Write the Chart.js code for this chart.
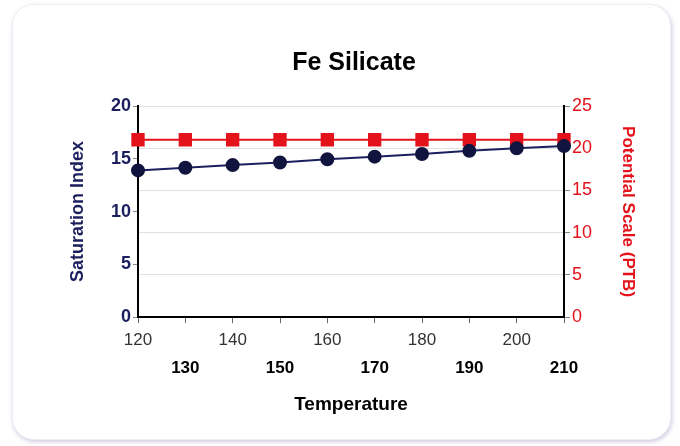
<!DOCTYPE html>
<html>
<head>
<meta charset="utf-8">
<script src="https://cdn.jsdelivr.net/npm/chart.js@4"></script>
<style>
  html, body { margin: 0; padding: 0; background: #fff; }
  #wrap { position: relative; width: 680px; height: 446px; overflow: hidden; }
  #card {
    position: absolute; left: 12px; top: 4px; width: 657px; height: 434px;
    border-radius: 22px; background: #fff;
    box-shadow: 1px 2px 4px rgba(190, 180, 210, 0.7);
    border: 1px solid #f0eef4;
  }
  #chart { position: absolute; left: 0; top: 0; }
</style>
</head>
<body>
<div id="wrap">
  <div id="card"></div>
  <canvas id="chart" width="680" height="446"></canvas>
</div>
<script>
  // chart values
  var temperatures = [120, 130, 140, 150, 160, 170, 180, 190, 200, 210];
  var saturationIndex = [13.9, 14.15, 14.4, 14.65, 14.95, 15.2, 15.45, 15.75, 16.0, 16.2];
  var potentialScale = [21, 21, 21, 21, 21, 21, 21, 21, 21, 21];
  var leftTicks = [0, 5, 10, 15, 20];
  var rightTicks = [0, 5, 10, 15, 20, 25];

  var NAVY = '#1b1f5e';
  var RED = '#e3121b';
  var FONT = "'Liberation Sans', Arial, sans-serif";

  function points(ys) {
    return temperatures.map(function(t, i) { return { x: t, y: ys[i] }; });
  }

  new Chart(document.getElementById('chart'), {
    type: 'line',
    data: {
      datasets: [{
        label: 'Saturation Index',
        data: points(saturationIndex),
        yAxisID: 'y',
        borderColor: NAVY,
        backgroundColor: '#10143f',
        pointBackgroundColor: '#10143f',
        pointBorderColor: '#10143f',
        borderWidth: 2,
        pointRadius: 6,
        pointStyle: 'circle',
        order: 1
      }, {
        label: 'Potential Scale (PTB)',
        data: points(potentialScale),
        yAxisID: 'y2',
        borderColor: RED,
        backgroundColor: RED,
        pointBackgroundColor: RED,
        pointBorderColor: RED,
        borderWidth: 2,
        pointRadius: 8,
        pointStyle: 'rect',
        order: 2
      }]
    },
    options: {
      responsive: false,
      animation: false,
      clip: false,
      layout: { padding: { left: 58, right: 30, top: 48, bottom: 26 } },
      plugins: {
        legend: { display: false },
        tooltip: { enabled: false },
        title: {
          display: true,
          text: 'Fe Silicate',
          color: '#000',
          font: { family: FONT, size: 25, weight: 'bold' },
          padding: { top: 0, bottom: 28 }
        }
      },
      scales: {
        x: {
          type: 'linear',
          min: 120,
          max: 210,
          grid: { drawOnChartArea: false, tickLength: 6, tickColor: '#666', tickWidth: 1 },
          border: { color: '#000', width: 2 },
          ticks: {
            stepSize: 10,
            autoSkip: false,
            maxRotation: 0,
            padding: 3,
            color: function(ctx) { return ctx.index % 2 ? '#000' : '#333'; },
            font: function(ctx) {
              return { family: FONT, size: 17, weight: ctx.index % 2 ? 'bold' : 'normal', lineHeight: 1.65 };
            },
            callback: function(v, i) { return i % 2 ? ['', String(v)] : [String(v), '']; }
          },
          title: {
            display: true,
            text: 'Temperature',
            color: '#000',
            font: { family: FONT, size: 19, weight: 'bold' },
            padding: { top: 8 }
          }
        },
        y: {
          position: 'left',
          min: 0,
          max: 20,
          afterBuildTicks: function(s) { s.ticks = leftTicks.map(function(v) { return { value: v }; }); },
          grid: { drawOnChartArea: false, tickLength: 5, tickColor: '#888' },
          border: { color: '#000', width: 2 },
          ticks: {
            color: NAVY,
            padding: 2,
            font: { family: FONT, size: 18, weight: 'bold' }
          },
          title: {
            display: true,
            text: 'Saturation Index',
            color: NAVY,
            font: { family: FONT, size: 18, weight: 'bold' },
            padding: { top: 9, bottom: 4 }
          },
          afterFit: function(s) { s.width = 80; }
        },
        y2: {
          position: 'right',
          min: 0,
          max: 25,
          afterBuildTicks: function(s) { s.ticks = rightTicks.map(function(v) { return { value: v }; }); },
          grid: { drawOnChartArea: true, color: '#e0e0e0', tickLength: 6, tickColor: '#888' },
          border: { color: '#000', width: 2 },
          ticks: {
            color: RED,
            padding: 2,
            font: { family: FONT, size: 18 }
          },
          title: {
            display: true,
            text: 'Potential Scale (PTB)',
            color: RED,
            font: { family: FONT, size: 17, weight: 'bold' },
            padding: { top: 12 }
          },
          afterFit: function(s) { s.width = 86; }
        }
      }
    }
  });
</script>
</body>
</html>
